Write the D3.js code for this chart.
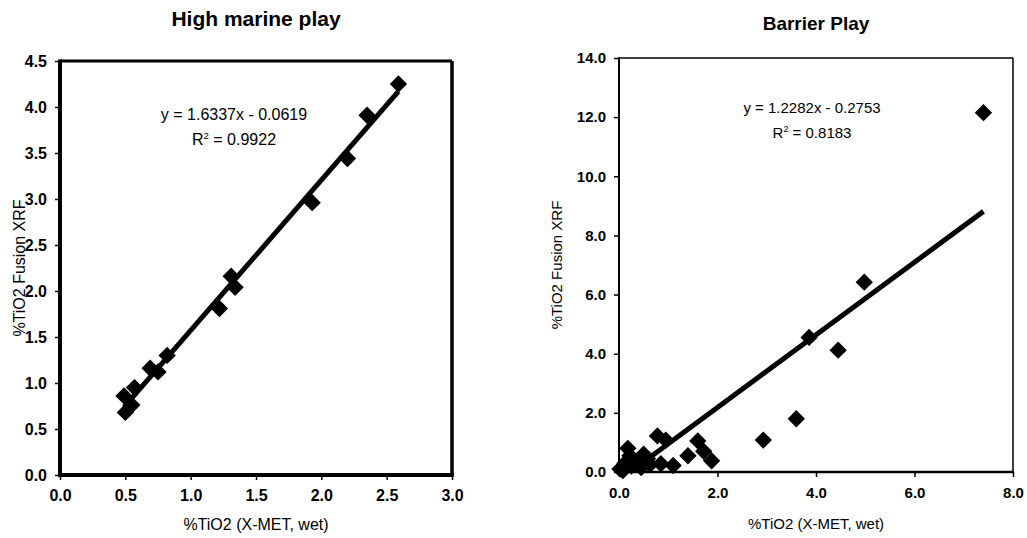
<!DOCTYPE html>
<html>
<head>
<meta charset="utf-8">
<script src="https://cdn.jsdelivr.net/npm/d3@7"></script>
<style>
  html, body { margin: 0; padding: 0; background: #fff; }
  svg { display: block; }
  text { font-family: "Liberation Sans", Arial, Helvetica, sans-serif; fill: #000; }
</style>
</head>
<body>
<svg id="chart" width="1027" height="538"></svg>
<script>
// ---------------- DATA ----------------
const leftTitle = "High marine play";
const leftX = [2.59, 2.35, 2.20, 1.93, 1.31, 1.34, 1.22, 0.82, 0.69, 0.75, 0.57, 0.49, 0.55, 0.50];
const leftY = [4.25, 3.91, 3.44, 2.96, 2.16, 2.04, 1.81, 1.30, 1.16, 1.12, 0.95, 0.86, 0.76, 0.68];
const leftXTicks = [0.0, 0.5, 1.0, 1.5, 2.0, 2.5, 3.0];
const leftYTicks = [0.0, 0.5, 1.0, 1.5, 2.0, 2.5, 3.0, 3.5, 4.0, 4.5];
const leftSlope = 1.6337, leftIntercept = -0.0619;
const leftEq = ["y = 1.6337x - 0.0619", "0.9922"];

const rightTitle = "Barrier Play";
const rightX = [7.40, 4.98, 3.86, 4.45, 3.60, 2.93, 0.02, 0.08, 0.12, 0.18, 0.22, 0.30, 0.40, 0.50, 0.58, 0.63, 0.78, 0.95, 0.85, 1.10, 1.40, 1.60, 1.72, 1.88, 0.25, 0.45];
const rightY = [12.15, 6.42, 4.55, 4.12, 1.80, 1.08, 0.10, 0.05, 0.30, 0.80, 0.55, 0.40, 0.30, 0.60, 0.45, 0.25, 1.22, 1.08, 0.28, 0.22, 0.55, 1.05, 0.70, 0.38, 0.20, 0.15];
const rightXTicks = [0.0, 2.0, 4.0, 6.0, 8.0];
const rightYTicks = [0.0, 2.0, 4.0, 6.0, 8.0, 10.0, 12.0, 14.0];
const rightSlope = 1.2282, rightIntercept = -0.2753;
const rightEq = ["y = 1.2282x - 0.2753", "0.8183"];

const xAxisTitle = "%TiO2 (X-MET, wet)";
const yAxisTitle = "%TiO2 Fusion XRF";

// ---------------- DRAW ----------------
const svg = d3.select("#chart");
svg.append("rect").attr("width", 1027).attr("height", 538).attr("fill", "#fff");

function panel(cfg) {
  const g = svg.append("g");
  const x = d3.scaleLinear().domain(cfg.xDomain).range([cfg.left, cfg.right]);
  const y = d3.scaleLinear().domain(cfg.yDomain).range([cfg.bottom, cfg.top]);
  const clipId = "clip" + cfg.id;
  svg.append("clipPath").attr("id", clipId).append("rect")
    .attr("x", cfg.left).attr("y", cfg.top)
    .attr("width", cfg.right - cfg.left).attr("height", cfg.bottom - cfg.top);

  // axes
  const yAxis = d3.axisLeft(y).tickValues(cfg.yTicks).tickFormat(d3.format(".1f"))
    .tickSizeOuter(0).tickSizeInner(5).tickPadding(8);
  const xAxis = d3.axisBottom(x).tickValues(cfg.xTicks).tickFormat(d3.format(".1f"))
    .tickSizeOuter(0).tickSizeInner(5).tickPadding(10);
  const ya = g.append("g").attr("transform", `translate(${cfg.left},0)`).call(yAxis);
  const xa = g.append("g").attr("transform", `translate(0,${cfg.bottom})`).call(xAxis);
  [ya, xa].forEach(a => {
    a.select(".domain").remove();
    a.selectAll(".tick line").attr("stroke", "#000").attr("stroke-width", 1.5);
    a.selectAll(".tick text").attr("font-size", cfg.fs.tick).attr("font-weight", "bold")
      .attr("font-family", "'Liberation Sans', Arial, sans-serif").attr("fill", "#000");
  });

  // frame
  const fr = g.append("g").attr("stroke", "#000").attr("fill", "none");
  fr.append("line").attr("x1", cfg.left).attr("x2", cfg.right).attr("y1", cfg.top).attr("y2", cfg.top).attr("stroke-width", cfg.fTop);
  fr.append("line").attr("x1", cfg.right).attr("x2", cfg.right).attr("y1", cfg.top).attr("y2", cfg.bottom).attr("stroke-width", cfg.fRight);
  fr.append("line").attr("x1", cfg.left).attr("x2", cfg.left).attr("y1", cfg.top - cfg.fTop / 2).attr("y2", cfg.bottom + cfg.fBottom / 2).attr("stroke-width", cfg.fLeft);
  fr.append("line").attr("x1", cfg.left - cfg.fLeft / 2).attr("x2", cfg.right + cfg.fRight / 2).attr("y1", cfg.bottom).attr("y2", cfg.bottom).attr("stroke-width", cfg.fBottom);

  // trend line
  const xs = cfg.xs, ys = cfg.ys;
  const x0 = d3.min(xs), x1 = d3.max(xs);
  g.append("line").attr("clip-path", `url(#${clipId})`)
    .attr("x1", x(x0)).attr("y1", y(cfg.slope * x0 + cfg.intercept))
    .attr("x2", x(x1)).attr("y2", y(cfg.slope * x1 + cfg.intercept))
    .attr("stroke", "#000").attr("stroke-width", 5);

  // points (diamonds)
  const pts = xs.map((v, i) => [v, ys[i]]);
  const sym = d3.symbol().type(d3.symbolSquare).size(150);
  g.append("g").selectAll("path").data(pts).join("path")
    .attr("d", sym)
    .attr("transform", d => `translate(${x(d[0])},${y(d[1])}) rotate(45)`)
    .attr("fill", "#000");

  // titles
  g.append("text").attr("x", (cfg.left + cfg.right) / 2).attr("y", cfg.titleY)
    .attr("text-anchor", "middle").attr("font-size", cfg.fs.title).attr("font-weight", "bold").text(cfg.title);
  g.append("text").attr("x", (cfg.left + cfg.right) / 2).attr("y", cfg.xTitleY)
    .attr("text-anchor", "middle").attr("font-size", cfg.fs.axis).text(xAxisTitle);
  g.append("text").attr("transform", `translate(${cfg.yTitleX},${(cfg.top + cfg.bottom) / 2}) rotate(-90)`)
    .attr("text-anchor", "middle").attr("font-size", cfg.fs.axis).text(yAxisTitle);

  // equation
  g.append("text").attr("x", cfg.eqX).attr("y", cfg.eqY)
    .attr("text-anchor", "middle").attr("font-size", cfg.fs.eq).text(cfg.eq[0]);
  const r2 = g.append("text").attr("x", cfg.eqX).attr("y", cfg.eqY + 25)
    .attr("text-anchor", "middle").attr("font-size", cfg.fs.eq);
  r2.append("tspan").text("R");
  r2.append("tspan").attr("font-size", cfg.fs.eq * 0.6).attr("dy", -6).text("2");
  r2.append("tspan").attr("dy", 6).text(" = " + cfg.eq[1]);
}

panel({
  id: "L", title: leftTitle, xs: leftX, ys: leftY,
  xDomain: [0, 3], yDomain: [0, 4.5], xTicks: leftXTicks, yTicks: leftYTicks,
  left: 60, right: 452, top: 61, bottom: 475,
  fTop: 3, fRight: 3.5, fLeft: 4, fBottom: 4,
  slope: leftSlope, intercept: leftIntercept, eq: leftEq,
  fs: { title: 21, tick: 16, eq: 16, axis: 16 },
  titleY: 26, xTitleY: 530, yTitleX: 25, eqX: 234, eqY: 120
});

panel({
  id: "R", title: rightTitle, xs: rightX, ys: rightY,
  xDomain: [0, 8], yDomain: [0, 14], xTicks: rightXTicks, yTicks: rightYTicks,
  left: 619, right: 1013, top: 58, bottom: 472,
  fTop: 1.5, fRight: 1.5, fLeft: 2, fBottom: 2.5,
  slope: rightSlope, intercept: rightIntercept, eq: rightEq,
  fs: { title: 19, tick: 15, eq: 15, axis: 15 },
  titleY: 30, xTitleY: 529, yTitleX: 562, eqX: 812, eqY: 113
});
</script>
</body>
</html>
